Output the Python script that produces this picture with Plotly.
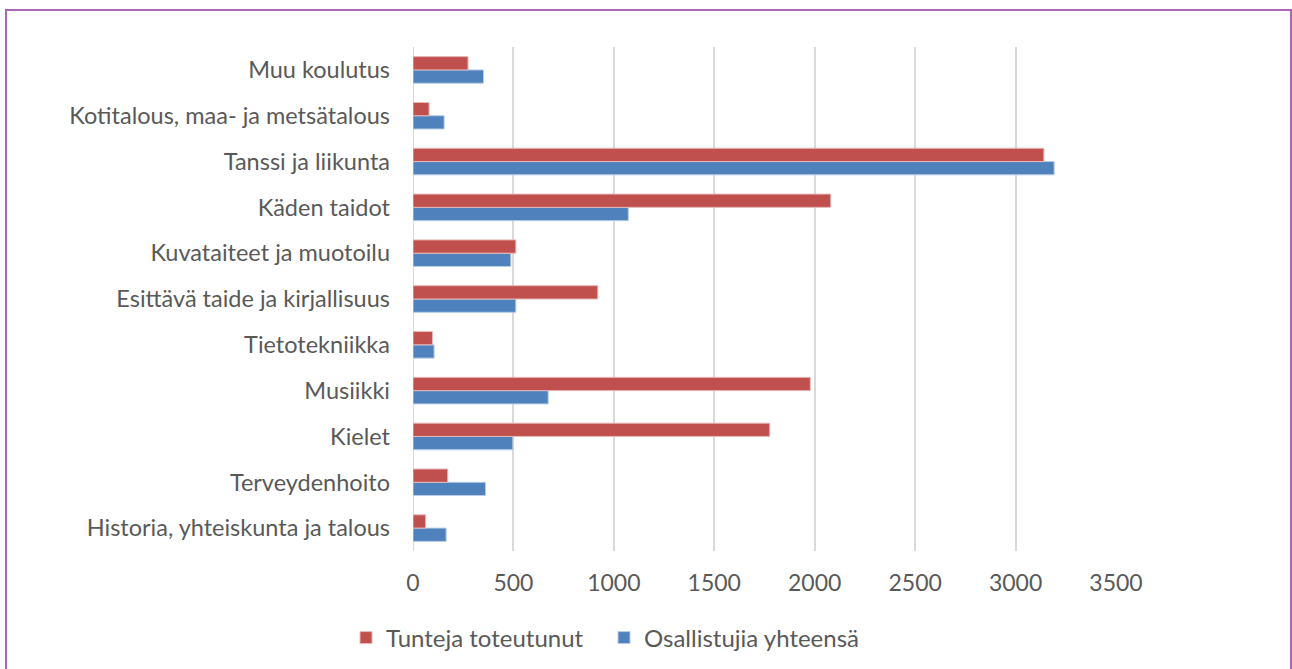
import plotly.graph_objects as go

categories = [
    "Historia, yhteiskunta ja talous",
    "Terveydenhoito",
    "Kielet",
    "Musiikki",
    "Tietotekniikka",
    "Esittävä taide ja kirjallisuus",
    "Kuvataiteet ja muotoilu",
    "Käden taidot",
    "Tanssi ja liikunta",
    "Kotitalous, maa- ja metsätalous",
    "Muu koulutus",
]
tunteja = [63, 173, 1776, 1978, 97, 920, 512, 2080, 3141, 80, 274]
osallistujia = [165, 361, 497, 673, 105, 512, 487, 1072, 3192, 155, 351]
x_ticks = [0, 500, 1000, 1500, 2000, 2500, 3000, 3500]

TEXT = "#595959"
FONT = "Lato"

fig = go.Figure()
fig.add_trace(go.Bar(
    y=categories, x=osallistujia, orientation="h", name="Osallistujia yhteensä",
    marker=dict(color="#4F81BD", line=dict(color="#B9CDE5", width=1)), legend="legend2",
))
fig.add_trace(go.Bar(
    y=categories, x=tunteja, orientation="h", name="Tunteja toteutunut",
    marker=dict(color="#C0504D", line=dict(color="#E6B9B8", width=1)), legend="legend",
))

L, R, T, B = 413, 176, 47, 118
W, H = 1292, 669
pw = W - L - R
ph = H - T - B

def px(xp):
    return (xp - L) / pw

def py(yp):
    return (H - B - yp) / ph

leg_common = dict(
    orientation="h", yanchor="middle", xanchor="left", y=py(638),
    font=dict(size=24, color=TEXT, family=FONT), itemwidth=30,
    bgcolor="rgba(0,0,0,0)",
)

fig.update_layout(
    width=W, height=H,
    margin=dict(l=L, r=R, t=T, b=B, autoexpand=False),
    barmode="group", bargap=0.42, bargroupgap=0,
    plot_bgcolor="white", paper_bgcolor="white",
    font=dict(family=FONT, color=TEXT, size=22),
    xaxis=dict(
        range=[0, 3500], tickvals=x_ticks, showgrid=True, gridcolor="#D9D9D9", gridwidth=2,
        zeroline=False, showline=False, ticklabelstandoff=16, automargin=False,
        tickfont=dict(size=23, color=TEXT, family=FONT), fixedrange=True,
    ),
    yaxis=dict(
        categoryorder="array", categoryarray=categories, showgrid=False, zeroline=False,
        showline=False, ticklabelstandoff=22, automargin=False,
        tickfont=dict(size=23.5, color=TEXT, family=FONT),
    ),
    legend=dict(x=px(346), **leg_common),
    legend2=dict(x=px(604), **leg_common),
    showlegend=True,
    shapes=[
        dict(type="line", xref="x", yref="paper", x0=0, x1=0, y0=0, y1=1,
             line=dict(color="#D9D9D9", width=2), layer="below"),
        dict(type="rect", xref="paper", yref="paper", x0=px(6), x1=px(1291), y0=py(690), y1=py(10),
             line=dict(color="#A866B5", width=2), fillcolor="rgba(0,0,0,0)"),
    ],
)

fig.write_html(
    "out.html",
    config={"displayModeBar": False},
    post_script="document.body.style.margin='0';document.body.style.overflow='hidden';",
)
